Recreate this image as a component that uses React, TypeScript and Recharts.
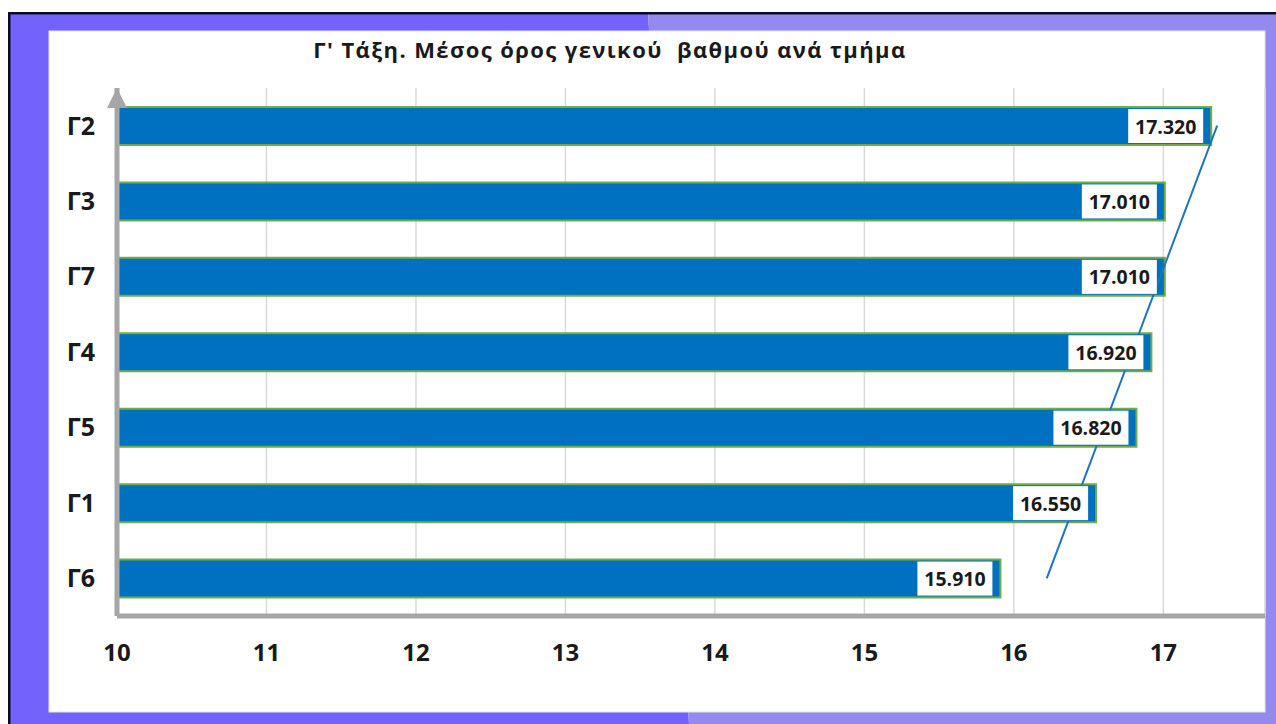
import React from 'react';
import { ComposedChart, Bar, XAxis, YAxis, CartesianGrid, LabelList, ReferenceLine } from 'recharts';

const categories = ['Γ2', 'Γ3', 'Γ7', 'Γ4', 'Γ5', 'Γ1', 'Γ6'];
const averages = [17.32, 17.01, 17.01, 16.92, 16.82, 16.55, 15.91];
const xTicks = [10, 11, 12, 13, 14, 15, 16, 17];
const xDomain = [10, 17.68];
const trendStart = { value: 16.22, category: 'Γ6' };
const trendEnd = { value: 17.36, category: 'Γ2' };
const title = "Γ' Τάξη. Μέσος όρος γενικού  βαθμού ανά τμήμα";

const data = categories.map((name, i) => ({ name, value: averages[i] }));

const FONT = "'Open Sans', 'Noto Sans', sans-serif";

const ValueLabel = (props: any) => {
  const vb = props.viewBox || {};
  const x = props.x ?? vb.x;
  const y = props.y ?? vb.y;
  const width = props.width ?? vb.width;
  const height = props.height ?? vb.height;
  const value = props.value;
  const bw = 75;
  const rx = x + width - 8 - bw;
  return (
    <g>
      <rect x={rx} y={y + 2} width={bw} height={height - 4} fill="#ffffff" />
      <text
        x={rx + bw / 2}
        y={y + height / 2}
        textAnchor="middle"
        dominantBaseline="central"
        fontFamily={FONT}
        fontWeight={700}
        fontSize={19.5}
        fill="#1a1a1a"
      >
        {Number(value).toFixed(3)}
      </text>
    </g>
  );
};

export default function App() {
  return (
    <div style={{ position: 'absolute', left: 0, top: 0, width: 1276, height: 724, overflow: 'hidden', background: '#ffffff' }}>
      <svg width={1276} height={724} style={{ position: 'absolute', left: 0, top: 0 }}>
        <rect x={0} y={0} width={1276} height={724} fill="#ffffff" />
        <polygon points="8,12 648,12 689,724 8,724" fill="#7163FB" />
        <polygon points="648,12 1276,12 1276,724 689,724" fill="#9389EE" />
        <rect x={8} y={12} width={1268} height={2.5} fill="#0a0a28" />
        <rect x={8} y={12} width={2.5} height={712} fill="#0a0a28" />
        <rect x={49} y={31} width={1216} height={681} fill="#ffffff" stroke="#e6e6ee" strokeWidth={1} />
        <text
          x={610}
          y={58}
          textAnchor="middle"
          fontFamily={FONT}
          fontWeight={700}
          fontSize={22}
          letterSpacing={1.4}
          fill="#1a1a1a"
          style={{ whiteSpace: 'pre' }}
        >
          {title}
        </text>
      </svg>
      <div style={{ position: 'absolute', left: 0, top: 0 }}>
        <ComposedChart
          width={1276}
          height={724}
          data={data}
          layout="vertical"
          margin={{ top: 88, right: 11, left: 0, bottom: 0 }}
        >
          <CartesianGrid horizontal={false} stroke="#D9D9D9" strokeWidth={1.5} />
          <XAxis
            type="number"
            domain={xDomain}
            ticks={xTicks}
            height={108}
            axisLine={{ stroke: '#A6A6A6', strokeWidth: 5 }}
            tickLine={false}
            tickSize={0}
            tickMargin={28}
            tick={{ fontFamily: FONT, fontWeight: 700, fontSize: 24, fill: '#1a1a1a' }}
          />
          <YAxis
            type="category"
            dataKey="name"
            width={117}
            axisLine={{ stroke: '#A6A6A6', strokeWidth: 5 }}
            tickLine={false}
            tickSize={0}
            tickMargin={22}
            tick={{ fontFamily: FONT, fontWeight: 700, fontSize: 25, fill: '#1a1a1a' }}
          />
          <Bar
            dataKey="value"
            fill="#0070C0"
            stroke="#70AD47"
            strokeWidth={2}
            barSize={38}
            isAnimationActive={false}
          >
            <LabelList dataKey="value" content={<ValueLabel />} />
          </Bar>
          <ReferenceLine
            segment={[
              { x: trendStart.value, y: trendStart.category },
              { x: trendEnd.value, y: trendEnd.category },
            ]}
            stroke="#1F74C0"
            strokeWidth={2}
            ifOverflow="visible"
          />
        </ComposedChart>
      </div>
      <svg width={1276} height={724} style={{ position: 'absolute', left: 0, top: 0, pointerEvents: 'none' }}>
        <polygon points="117,88 107,108 127,108" fill="#A6A6A6" />
      </svg>
    </div>
  );
}
